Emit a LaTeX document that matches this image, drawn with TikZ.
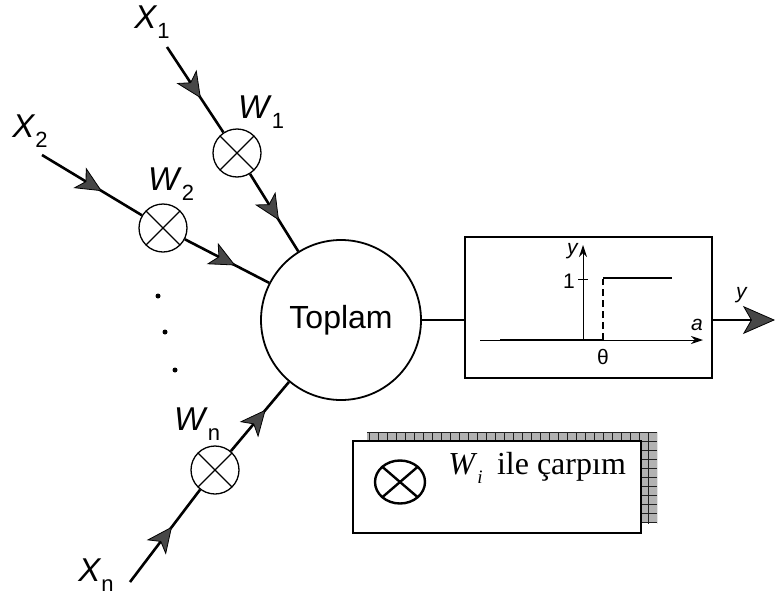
\documentclass[tikz,border=0pt]{standalone}
\usepackage{fontspec}
\setmainfont{Liberation Serif}
\setsansfont{Liberation Sans}
\usetikzlibrary{positioning, arrows.meta, decorations.markings, shapes.geometric}

\newcommand{\inlabel}[2]{\textit{#1}\raisebox{-0.3em}{\fontsize{22}{22}\selectfont #2}}

\begin{document}
\begin{tikzpicture}[
    x=1pt, y=-1pt,
    line width=2.6pt,
    sumstyle/.style={circle, draw, line width=1.8pt, minimum size=160pt,
        font=\sffamily\fontsize{32}{32}\selectfont},
    multstyle/.style={circle, draw, line width=1.3pt, minimum size=48pt,
        fill=white, path picture={
            \draw[line width=1.1pt] (path picture bounding box.north west)
                -- (path picture bounding box.south east);
            \draw[line width=1.1pt] (path picture bounding box.north east)
                -- (path picture bounding box.south west);}},
    lblstyle/.style={inner sep=0pt, font=\sffamily\fontsize{33}{33}\selectfont},
    smalllbl/.style={inner sep=0pt, font=\sffamily\fontsize{21}{21}\selectfont},
    dotstyle/.style={circle, fill, inner sep=0pt, minimum size=5pt},
    midarrow/.style={postaction={decorate}, decoration={markings,
        mark=at position 0.6 with {\arrow{Stealth[length=26pt, width=24pt, inset=7pt, fill=black!72, line width=0.8pt]}}}}
]
\useasboundingbox (0,0) rectangle (775,597);

% summing unit
\node[sumstyle] (sum) at (341,320) {Toplam};

% inputs and weights
\node[lblstyle] (x1) at (152,22) {\inlabel{X}{1}};
\coordinate (s1) at (167,47);
\node[multstyle] (w1) at (237,153) {};
\node[lblstyle] (w1l) at (261,112) {\inlabel{W}{1}};
\draw[midarrow] (s1) -- (w1);
\draw[midarrow] (w1) -- (sum);

\node[lblstyle] (x2) at (30,131) {\inlabel{X}{2}};
\coordinate (s2) at (42,155);
\node[multstyle] (w2) at (163,228) {};
\node[lblstyle] (w2l) at (171,184) {\inlabel{W}{2}};
\draw[midarrow] (s2) -- (w2);
\draw[midarrow] (w2) -- (sum);

\foreach \p [count=\i] in {(158,296),(165,332),(175,370)}
    \node[dotstyle] (dot\i) at \p {};

\node[lblstyle] (xn) at (96,575) {\inlabel{X}{n}};
\coordinate (sn) at (130,582);
\node[multstyle] (wn) at (215,470) {};
\node[lblstyle] (wnl) at (197,424) {\inlabel{W}{n}};
\draw[midarrow] (sn) -- (wn);
\draw[midarrow] (wn) -- (sum);

% threshold function
\node[draw, line width=1.4pt, minimum width=247pt, minimum height=141pt] (box) at (588.5,307.5) {};
\draw (sum.east) -- (sum.east -| box.west);
\draw[line width=1pt, -{Stealth[length=12pt, width=8pt]}] (480,340) -- (703,340);
\draw[line width=2.6pt] (500,340) -- (603,340);
\draw[line width=1pt, -{Stealth[length=12pt, width=8pt]}] (583,340) -- (583,245);
\draw[line width=1pt] (578,279) -- (588,279);
\draw[line width=1.4pt, dash pattern=on 7pt off 4pt] (603,340) -- (603,279);
\draw[line width=2.6pt] (603,278) -- (672,278);
\node[smalllbl] (ylbl) at (573,251) {\textit{y}};
\node[smalllbl] (one) at (569,281) {1};
\node[smalllbl] (theta) at (603,357) {θ};
\node[smalllbl] (albl) at (697,325) {\textit{a}};

% output
\coordinate (out) at (775,320);
\draw[-{Stealth[length=32pt, width=28pt, inset=8pt, fill=black!72, line width=0.8pt]}] (box.east |- out) -- (out);
\node[smalllbl] (yout) at (742,295) {\textit{y}};

% legend
\fill[gray!60] (367,432) rectangle (657,523);
\begin{scope}
    \clip (367,432) rectangle (657,523);
    \draw[line width=0.7pt, gray!25!black, step=9pt] (360,425) grid (665,530);
\end{scope}
\node[draw, fill=white, line width=1.8pt, minimum width=288pt, minimum height=92pt,
    anchor=north west] (legend) at (352,440) {};
\node[ellipse, draw, line width=2.4pt, minimum width=50pt, minimum height=43pt,
    path picture={
        \draw[line width=2.4pt] (path picture bounding box.north west)
            -- (path picture bounding box.south east);
        \draw[line width=2.4pt] (path picture bounding box.north east)
            -- (path picture bounding box.south west);}] (sym) at (400,482) {};
\node[anchor=base west, inner sep=0pt, font=\fontsize{32}{32}\selectfont] (legtext) at (447,474)
    {\textit{W}\raisebox{-0.3em}{\fontsize{19}{19}\selectfont\textit{i}}\hspace{0.45em}ile çarpım};
\end{tikzpicture}
\end{document}
